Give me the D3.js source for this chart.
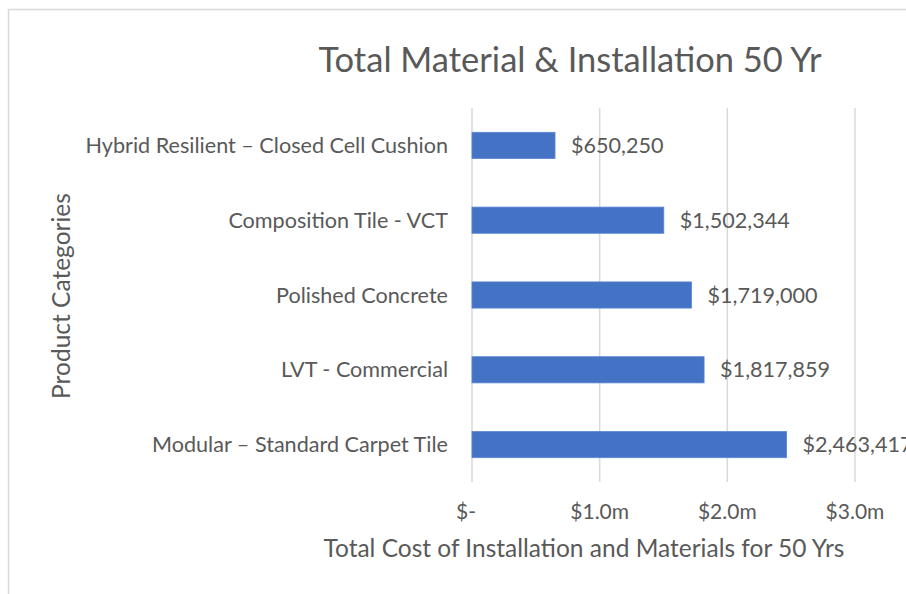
<!DOCTYPE html>
<html>
<head>
<meta charset="utf-8">
<script src="https://cdn.jsdelivr.net/npm/d3@7"></script>
<style>
  html, body { margin: 0; padding: 0; background: #fff; overflow: hidden; }
  svg { display: block; font-family: Lato, "Open Sans", sans-serif; }
</style>
</head>
<body>
<div id="chart"></div>
<script>
// chart data
var categories = [
    "Hybrid Resilient \u2013 Closed Cell Cushion",
    "Composition Tile - VCT",
    "Polished Concrete",
    "LVT - Commercial",
    "Modular \u2013 Standard Carpet Tile"
];
var costs = [650250, 1502344, 1719000, 1817859, 2463417];
var tickValues = [0, 1000000, 2000000, 3000000];
var tickLabels = ["$-", "$1.0m", "$2.0m", "$3.0m"];

var width = 906, height = 594;
var textColor = "#595959";

var svg = d3.select("#chart").append("svg")
    .attr("width", width)
    .attr("height", height);

// chart area border (runs off the right and bottom edge)
svg.append("rect")
    .attr("x", 8.5).attr("y", 9.5)
    .attr("width", width + 20).attr("height", height + 20)
    .attr("fill", "#fff")
    .attr("stroke", "#d9d9d9")
    .attr("stroke-width", 1.5);

// plot area
var plot = { left: 472, top: 108, right: 855, bottom: 482 };

var x = d3.scaleLinear()
    .domain([0, 3000000])
    .range([plot.left, plot.right]);

var y = d3.scaleBand()
    .domain(categories)
    .range([plot.top, plot.bottom])
    .paddingInner(0.65)
    .paddingOuter(0.325);

// gridlines
svg.append("g").selectAll("line")
    .data(tickValues).enter()
    .append("line")
        .attr("x1", function(d){ return x(d); })
        .attr("x2", function(d){ return x(d); })
        .attr("y1", plot.top)
        .attr("y2", plot.bottom)
        .attr("stroke", "#d9d9d9")
        .attr("stroke-width", 1.5);

// bars
svg.append("g").selectAll("rect")
    .data(costs).enter()
    .append("rect")
        .attr("x", x(0))
        .attr("y", function(d, i){ return y(categories[i]); })
        .attr("width", function(d){ return x(d) - x(0); })
        .attr("height", y.bandwidth())
        .attr("fill", "#4472c4")
        .attr("stroke", "#5b86d4")
        .attr("stroke-width", 0.8);

// data labels
var money = d3.format("$,.0f");
svg.append("g").selectAll("text")
    .data(costs).enter()
    .append("text")
        .attr("x", function(d){ return x(d) + 16; })
        .attr("y", function(d, i){ return y(categories[i]) + y.bandwidth() / 2; })
        .attr("dy", "0.35em")
        .attr("fill", textColor)
        .style("font-size", "21.6px")
        .text(function(d){ return money(d); });

// category axis labels
svg.append("g").selectAll("text")
    .data(categories).enter()
    .append("text")
        .attr("x", plot.left - 24)
        .attr("y", function(d){ return y(d) + y.bandwidth() / 2; })
        .attr("dy", "0.35em")
        .attr("text-anchor", "end")
        .attr("fill", textColor)
        .style("font-size", "21.6px")
        .text(function(d){ return d; });

// value axis tick labels
svg.append("g").selectAll("text")
    .data(tickValues).enter()
    .append("text")
        .attr("x", function(d){ return x(d) - (d === 0 ? 6 : 0); })
        .attr("y", 519)
        .attr("text-anchor", "middle")
        .attr("fill", textColor)
        .style("font-size", "21px")
        .text(function(d, i){ return tickLabels[i]; });

// title
svg.append("text")
    .attr("x", 570).attr("y", 72)
    .attr("text-anchor", "middle")
    .attr("fill", textColor)
    .style("font-size", "34.5px")
    .text("Total Material & Installation 50 Yr");

// axis titles
svg.append("text")
    .attr("x", 584).attr("y", 557)
    .attr("text-anchor", "middle")
    .attr("fill", textColor)
    .style("font-size", "24.5px")
    .text("Total Cost of Installation and Materials for 50 Yrs");

svg.append("text")
    .attr("transform", "translate(70,296) rotate(-90)")
    .attr("text-anchor", "middle")
    .attr("fill", textColor)
    .style("font-size", "24.5px")
    .text("Product Categories");
</script>
</body>
</html>
